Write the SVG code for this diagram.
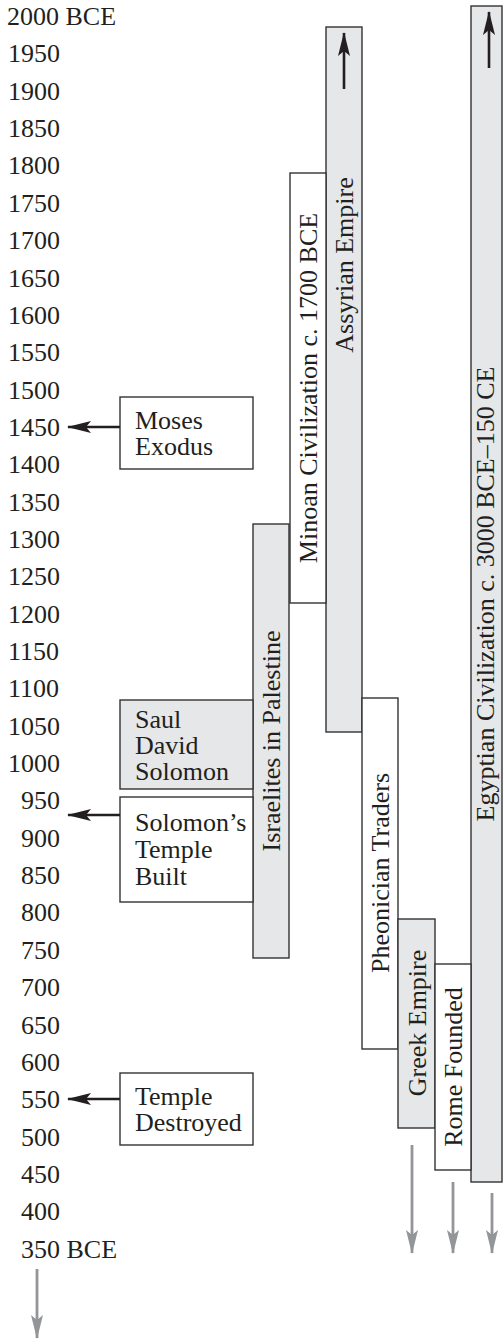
<svg xmlns="http://www.w3.org/2000/svg" width="503" height="1339" viewBox="0 0 503 1339">
<defs>
<style>
text{font-family:"Liberation Serif","Times New Roman",serif;font-size:26px;fill:#231f20}
.box{fill:#fff;stroke:#333;stroke-width:1.4}
.gbox{fill:#e6e7e8;stroke:#333;stroke-width:1.4}
.blk{stroke:#231f20;stroke-width:2.6;fill:none}
.gry{stroke:#939598;stroke-width:2.8;fill:none}
</style>
<marker id="ah" viewBox="0 0 24 12" refX="23" refY="6" markerWidth="24" markerHeight="12" markerUnits="userSpaceOnUse" orient="auto">
<path d="M0,0 L24,6 L0,12 L5,6 Z" fill="#231f20"/>
</marker>
<marker id="gh" viewBox="0 0 24 12" refX="23" refY="6" markerWidth="24" markerHeight="12" markerUnits="userSpaceOnUse" orient="auto">
<path d="M0,0 L24,6 L0,12 L5,6 Z" fill="#939598"/>
</marker>
</defs>
<rect width="503" height="1339" fill="#fff"/>
<g id="axis">
<text x="7" y="25">2000 BCE</text>
<text x="8" y="62.4">1950</text>
<text x="8" y="99.7">1900</text>
<text x="8" y="137.1">1850</text>
<text x="8" y="174.4">1800</text>
<text x="8" y="211.8">1750</text>
<text x="8" y="249.1">1700</text>
<text x="8" y="286.5">1650</text>
<text x="8" y="323.8">1600</text>
<text x="8" y="361.2">1550</text>
<text x="8" y="398.5">1500</text>
<text x="8" y="435.9">1450</text>
<text x="8" y="473.2">1400</text>
<text x="8" y="510.6">1350</text>
<text x="8" y="547.9">1300</text>
<text x="8" y="585.3">1250</text>
<text x="8" y="622.6">1200</text>
<text x="8" y="660">1150</text>
<text x="8" y="697.3">1100</text>
<text x="8" y="734.7">1050</text>
<text x="8" y="772">1000</text>
<text x="21" y="809.4">950</text>
<text x="21" y="846.7">900</text>
<text x="21" y="884.1">850</text>
<text x="21" y="921.4">800</text>
<text x="21" y="958.8">750</text>
<text x="21" y="996.1">700</text>
<text x="21" y="1033.5">650</text>
<text x="21" y="1070.8">600</text>
<text x="21" y="1108.2">550</text>
<text x="21" y="1145.5">500</text>
<text x="21" y="1182.9">450</text>
<text x="21" y="1220.2">400</text>
<text x="21" y="1257.6">350 BCE</text>
</g>
<g id="egyptian">
<rect class="gbox" x="471" y="6" width="31" height="1176"/>
<text transform="translate(494,594) rotate(-90)" text-anchor="middle">Egyptian Civilization c. 3000 BCE–150 CE</text>
</g>
<g id="assyrian">
<rect class="gbox" x="326" y="27" width="36" height="705"/>
<text transform="translate(353,265) rotate(-90)" text-anchor="middle">Assyrian Empire</text>
</g>
<g id="minoan">
<rect class="box" x="290" y="173" width="36" height="430"/>
<text transform="translate(317,388) rotate(-90)" text-anchor="middle">Minoan Civilization c. 1700 BCE</text>
</g>
<g id="israelites">
<rect class="gbox" x="253" y="524" width="36" height="434"/>
<text transform="translate(280,741) rotate(-90)" text-anchor="middle">Israelites in Palestine</text>
</g>
<g id="pheonician">
<rect class="box" x="362" y="698" width="36" height="351"/>
<text transform="translate(389,873) rotate(-90)" text-anchor="middle">Pheonician Traders</text>
</g>
<g id="greek">
<rect class="gbox" x="398" y="919" width="37" height="209"/>
<text transform="translate(426,1023) rotate(-90)" text-anchor="middle">Greek Empire</text>
</g>
<g id="rome">
<rect class="box" x="435" y="964" width="36" height="206"/>
<text transform="translate(462,1067) rotate(-90)" text-anchor="middle">Rome Founded</text>
</g>
<g id="moses">
<rect class="box" x="120" y="397" width="133" height="72"/>
<text x="135" y="429">Moses</text>
<text x="135" y="455">Exodus</text>
</g>
<g id="saul">
<rect class="gbox" x="120" y="700" width="133" height="89"/>
<text x="135" y="728">Saul</text>
<text x="135" y="754">David</text>
<text x="135" y="780">Solomon</text>
</g>
<g id="solomons-temple">
<rect class="box" x="120" y="797" width="133" height="105"/>
<text x="135" y="831">Solomon’s</text>
<text x="135" y="858">Temple</text>
<text x="135" y="885">Built</text>
</g>
<g id="temple-destroyed">
<rect class="box" x="120" y="1073" width="133" height="72"/>
<text x="135" y="1105">Temple</text>
<text x="135" y="1131">Destroyed</text>
</g>
<g id="connectors">
<line class="blk" x1="120" y1="427" x2="68" y2="427" marker-end="url(#ah)"/>
<line class="blk" x1="120" y1="815" x2="68" y2="815" marker-end="url(#ah)"/>
<line class="blk" x1="120" y1="1099" x2="68" y2="1099" marker-end="url(#ah)"/>
<line class="blk" x1="344" y1="89" x2="344" y2="33" marker-end="url(#ah)"/>
<line class="blk" x1="489" y1="68" x2="489" y2="12" marker-end="url(#ah)"/>
<line class="gry" x1="412" y1="1145" x2="412" y2="1253" marker-end="url(#gh)"/>
<line class="gry" x1="453" y1="1182" x2="453" y2="1253" marker-end="url(#gh)"/>
<line class="gry" x1="492" y1="1193" x2="492" y2="1253" marker-end="url(#gh)"/>
<line class="gry" x1="37" y1="1269" x2="37" y2="1338" marker-end="url(#gh)"/>
</g>
</svg>
